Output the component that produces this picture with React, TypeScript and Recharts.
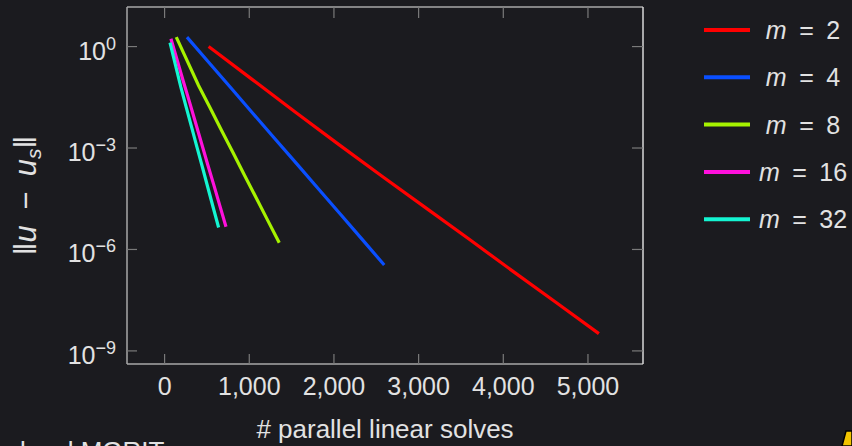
import React from 'react';
import { LineChart, Line, XAxis, YAxis, Legend, Label } from 'recharts';

// iteration history: # parallel linear solves vs error norm
const m2Solves = [520, 1033, 1546, 2059, 2572, 3085, 3598, 4111, 4624, 5129];
const m2Error = [1, 0.1072, 0.01148, 1.259e-3, 1.445e-4, 1.698e-5, 1.995e-6, 2.291e-7, 2.692e-8, 3.236e-9];

const m4Solves = [264, 523, 782, 1041, 1300, 1559, 1818, 2077, 2336, 2594];
const m4Error = [1.905, 0.3388, 0.06026, 0.01072, 1.905e-3, 3.467e-4, 6.166e-5, 1.096e-5, 1.95e-6, 3.467e-7];

const m8Solves = [138, 270, 401, 537, 673, 809, 945, 1081, 1218, 1354];
const m8Error = [1.905, 0.3631, 0.07079, 0.01549, 3.311e-3, 7.244e-4, 1.549e-4, 3.388e-5, 7.244e-6, 1.585e-6];

const m16Solves = [75, 147, 219, 292, 364, 436, 508, 581, 653, 725];
const m16Error = [1.698, 0.4074, 0.09772, 0.02399, 5.754e-3, 1.38e-3, 3.311e-4, 8.128e-5, 1.95e-5, 4.677e-6];

const m32Solves = [64, 128, 192, 255, 319, 383, 447, 510, 574, 638];
const m32Error = [1.318, 0.2884, 0.0631, 0.01622, 4.169e-3, 1.047e-3, 2.692e-4, 6.918e-5, 1.738e-5, 4.467e-6];

const xTicks = [0, 1000, 2000, 3000, 4000, 5000];
const yTicks = [1e-9, 1e-6, 1e-3, 1];

const BG = '#1b1b1f';
const TEXT = '#e2e2e2';
const FRAME = '#a8a8a8';
const TICK = '#7a7a7a';
const FONT = '"Liberation Sans", Arial, sans-serif';

const toRows = (solves: number[], err: number[]) => solves.map((s, i) => ({ solves: s, err: err[i] }));

const series = [
  { name: 'm2', label: '2', color: '#ff0000', data: toRows(m2Solves, m2Error) },
  { name: 'm4', label: '4', color: '#0a4fff', data: toRows(m4Solves, m4Error) },
  { name: 'm8', label: '8', color: '#a6f200', data: toRows(m8Solves, m8Error) },
  { name: 'm16', label: '16', color: '#ff10dc', data: toRows(m16Solves, m16Error) },
  { name: 'm32', label: '32', color: '#14f5d2', data: toRows(m32Solves, m32Error) },
];

const BottomTick = ({ x, y, payload }: any) => (
  <g>
    <line x1={x} y1={y} x2={x} y2={y - 10} stroke={TICK} strokeWidth={1.2} />
    <text x={x} y={y + 31} textAnchor="middle" fill={TEXT} fontSize={25} fontFamily={FONT}>
      {Number(payload.value).toLocaleString('en-US')}
    </text>
  </g>
);

const LeftTick = ({ x, y, payload }: any) => {
  const exp = Math.round(Math.log10(payload.value));
  return (
    <g>
      <line x1={x} y1={y} x2={x + 10} y2={y} stroke={TICK} strokeWidth={1.2} />
      <text x={x - 11} y={y + 13} textAnchor="end" fill={TEXT} fontSize={25} fontFamily={FONT}>
        <tspan>10</tspan>
        <tspan dy={-10} fontSize={18}>{exp < 0 ? `\u2212${-exp}` : exp}</tspan>
      </text>
    </g>
  );
};

const TopTick = ({ x, y }: any) => <line x1={x} y1={y} x2={x} y2={y + 11} stroke={TICK} strokeWidth={1.2} />;
const RightTick = ({ x, y }: any) => <line x1={x} y1={y} x2={x - 11} y2={y} stroke={TICK} strokeWidth={1.2} />;

const YTitle = ({ viewBox }: any) => {
  const cy = viewBox.y + viewBox.height / 2 + 10;
  return (
    <text transform={`translate(36,${cy}) rotate(-90)`} textAnchor="middle" fill={TEXT} fontSize={31} fontFamily={FONT}>
      <tspan>{'\u2016'}</tspan>
      <tspan fontStyle="italic">u</tspan>
      <tspan>{'\u2002\u2212\u2002'}</tspan>
      <tspan fontStyle="italic">u</tspan>
      <tspan fontStyle="italic" fontSize={21} dy={5}>s</tspan>
      <tspan dy={-5}>{'\u2016'}</tspan>
    </text>
  );
};

const XTitle = ({ viewBox }: any) => (
  <text x={viewBox.x + viewBox.width / 2} y={438} textAnchor="middle" fill={TEXT} fontSize={26} fontFamily={FONT}>
    # parallel linear solves
  </text>
);

const LegendBox = () => (
  <svg width={162} height={250}>
    {series.map((s, i) => {
      const cy = 30 + i * 47.3;
      return (
        <g key={s.name}>
          <line x1={14} x2={60} y1={cy} y2={cy} stroke={s.color} strokeWidth={4} />
          <text x={113} y={cy + 9} textAnchor="middle" fill={TEXT} fontSize={25} fontFamily={FONT}>
            <tspan fontStyle="italic">m</tspan>
            <tspan>{'\u2002=\u2002' + s.label}</tspan>
          </text>
        </g>
      );
    })}
  </svg>
);

export default function App() {
  return (
    <div style={{ position: 'fixed', left: 0, top: 0, width: 852, height: 446, background: BG, overflow: 'hidden' }}>
      <LineChart width={852} height={446} margin={{ top: 6, right: 208, bottom: 42, left: 0 }}>
        <XAxis
          dataKey="solves"
          type="number"
          domain={[-444, 5650]}
          allowDataOverflow
          ticks={xTicks}
          height={40}
          tickSize={0}
          tickMargin={0}
          tick={<BottomTick />}
          axisLine={{ stroke: FRAME, strokeWidth: 1.5 }}
          tickLine={false}
          interval={0}
        >
          <Label content={<XTitle />} />
        </XAxis>
        <XAxis
          xAxisId="top"
          orientation="top"
          dataKey="solves"
          type="number"
          domain={[-444, 5650]}
          allowDataOverflow
          ticks={xTicks}
          height={1}
          tickSize={0}
          tickMargin={0}
          tick={<TopTick />}
          axisLine={{ stroke: FRAME, strokeWidth: 1.5 }}
          tickLine={false}
          interval={0}
        />
        <YAxis
          dataKey="err"
          type="number"
          scale="log"
          domain={[4.1e-10, 14.8]}
          allowDataOverflow
          ticks={yTicks}
          width={127}
          tickSize={0}
          tickMargin={0}
          tick={<LeftTick />}
          axisLine={{ stroke: FRAME, strokeWidth: 1.5 }}
          tickLine={false}
          interval={0}
        >
          <Label content={<YTitle />} />
        </YAxis>
        <YAxis
          yAxisId="right"
          orientation="right"
          dataKey="err"
          type="number"
          scale="log"
          domain={[4.1e-10, 14.8]}
          allowDataOverflow
          ticks={yTicks}
          width={1}
          tickSize={0}
          tickMargin={0}
          tick={<RightTick />}
          axisLine={{ stroke: '#d8d8d8', strokeWidth: 1.5 }}
          tickLine={false}
          interval={0}
        />
        <Legend
          layout="vertical"
          align="center"
          verticalAlign="middle"
          content={<LegendBox />}
          wrapperStyle={{ left: 690, top: 0, width: 162, height: 250 }}
        />
        {series.map((s) => (
          <Line
            key={s.name}
            data={s.data}
            dataKey="err"
            name={s.name}
            type="linear"
            stroke={s.color}
            strokeWidth={3.2}
            dot={false}
            isAnimationActive={false}
          />
        ))}
      </LineChart>
      <div
        style={{
          position: 'absolute',
          left: 20,
          top: 436,
          color: TEXT,
          fontFamily: FONT,
          fontSize: 26,
          whiteSpace: 'nowrap',
          lineHeight: '30px',
        }}
      >
        level MGRIT
      </div>
      <svg style={{ position: 'absolute', left: 836, top: 426 }} width={16} height={20}>
        <polygon points="6,20 10,5 16,5 16,20" fill="#f2c400" stroke="#000" strokeWidth={1.5} />
      </svg>
    </div>
  );
}
